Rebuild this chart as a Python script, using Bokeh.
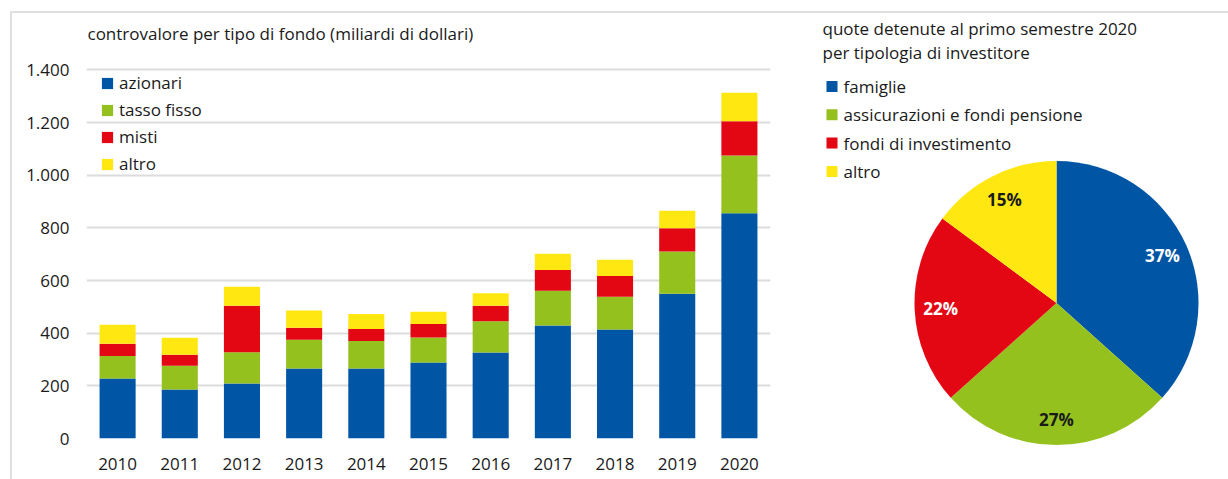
from bokeh.plotting import figure
from bokeh.layouts import row
from bokeh.models import ColumnDataSource, FactorRange, Range1d, FixedTicker, Label
from bokeh.core.properties import value
from bokeh.embed import file_html
from bokeh.resources import INLINE
import numpy as np

# ---- data: bar chart ----
years = ["2010", "2011", "2012", "2013", "2014", "2015", "2016", "2017", "2018", "2019", "2020"]
azionari = [228, 186, 209, 266, 266, 289, 327, 429, 414, 550, 855]
tasso_fisso = [85, 90, 119, 109, 104, 95, 118, 132, 124, 160, 220]
misti = [47, 42, 176, 46, 46, 51, 59, 79, 79, 88, 130]
altro = [72, 65, 72, 65, 57, 46, 48, 62, 62, 67, 108]
series_labels = ["azionari", "tasso fisso", "misti", "altro"]
tick_values = [0, 200, 400, 600, 800, 1000, 1200, 1400]
tick_labels = ["0", "200", "400", "600", "800", "1.000", "1.200", "1.400"]
bar_title = "controvalore per tipo di fondo (miliardi di dollari)"

# ---- data: pie chart ----
pie_labels = ["famiglie", "assicurazioni e fondi pensione", "fondi di investimento", "altro"]
pie_shares = [37, 27, 22, 15]
pie_title = ["quote detenute al primo semestre 2020", "per tipologia di investitore"]

COLORS = ["#0055a4", "#95c11f", "#e30613", "#ffe812"]
TXT = "#1a1a1a"
FONT = "Open Sans"
FS = "17px"

# ---------------- bar figure ----------------
src = ColumnDataSource(dict(year=years, azionari=azionari, tasso_fisso=tasso_fisso,
                            misti=misti, altro=altro))
p1 = figure(x_range=FactorRange(factors=years), y_range=Range1d(0, 1595),
            width=779, height=466, output_backend="svg", toolbar_location=None,
            min_border_left=74, min_border_right=21, min_border_top=5, min_border_bottom=41)
p1.frame_align = False
p1.vbar_stack(["azionari", "tasso_fisso", "misti", "altro"], x="year", width=0.58,
              fill_color=COLORS, line_color=None, source=src, legend_label=series_labels)

# screen units here are measured from the frame's bottom-left corner
p1.add_layout(Label(x=1, y=405, x_units="screen", y_units="screen", text=bar_title,
                    text_font=FONT, text_font_size=FS, text_color=TXT,
                    text_align="left", text_baseline="middle"))

p1.yaxis.ticker = FixedTicker(ticks=tick_values)
p1.yaxis.major_label_overrides = {v: l for v, l in zip(tick_values, tick_labels)}
for ax in (p1.xaxis, p1.yaxis):
    ax.axis_line_color = None
    ax.major_tick_line_color = None
    ax.minor_tick_line_color = None
    ax.major_label_text_font = FONT
    ax.major_label_text_font_size = FS
    ax.major_label_text_color = TXT
p1.yaxis.major_label_standoff = 11
p1.xaxis.major_label_standoff = 13
p1.xgrid.grid_line_color = None
p1.ygrid.grid_line_color = "#dcdcdc"
p1.ygrid.grid_line_width = 2
p1.outline_line_color = None

lg = p1.legend[0]
lg.location = (14, 263)   # bottom-left corner of the legend box, from frame bottom-left
lg.border_line_color = None
lg.background_fill_alpha = 0
lg.label_text_font = FONT
lg.label_text_font_size = FS
lg.label_text_color = TXT
lg.glyph_width = 14
lg.glyph_height = 14
lg.label_height = 23
lg.spacing = 4
lg.padding = 0
lg.margin = 0
lg.label_standoff = 5

# ---------------- pie figure ----------------
p2 = figure(width=437, height=466, x_range=Range1d(791, 1228), y_range=Range1d(-479, -13),
            min_border=0, output_backend="svg", toolbar_location=None)
p2.frame_align = False
p2.axis.visible = False
p2.grid.grid_line_color = None
p2.outline_line_color = None

cx, cy, r = 1056, -302.5, 142
shares = np.array(pie_shares, dtype=float)
cum = np.concatenate([[0], np.cumsum(shares)]) / shares.sum()
ang = np.pi / 2 - 2 * np.pi * cum
starts = ang[1:]
ends = ang[:-1]
p2.wedge(x=[cx] * 4, y=[cy] * 4, radius=r, start_angle=list(starts), end_angle=list(ends),
         fill_color=COLORS, line_color=None)

mid = (starts + ends) / 2
rl = 116
p2.text(x=list(cx + rl * np.cos(mid)), y=list(cy + rl * np.sin(mid)),
        text=[f"{s}%" for s in pie_shares],
        text_color=["white", TXT, "white", TXT], text_font=value(FONT),
        text_font_size=FS, text_font_style="bold", text_align="center", text_baseline="middle")

# titles
p2.text(x=[822] * 2, y=[-28 - 24 * i for i in range(2)], text=pie_title,
        text_font=value(FONT), text_font_size=FS, text_color=TXT,
        text_align="left", text_baseline="middle")
# legend
ly = [-86 - 28.3 * i for i in range(4)]
p2.rect(x=[831.5] * 4, y=ly, width=11, height=11, fill_color=COLORS, line_color=None)
p2.text(x=[843] * 4, y=ly, text=pie_labels, text_font=value(FONT), text_font_size=FS,
        text_color=TXT, text_align="left", text_baseline="middle")

layout = row(p1, p2, margin=(11, 0, 0, 10),
             styles={"border-top": "2px solid #e0e0e0", "border-left": "2px solid #e0e0e0"})

open("out.html", "w").write(file_html(layout, INLINE))
